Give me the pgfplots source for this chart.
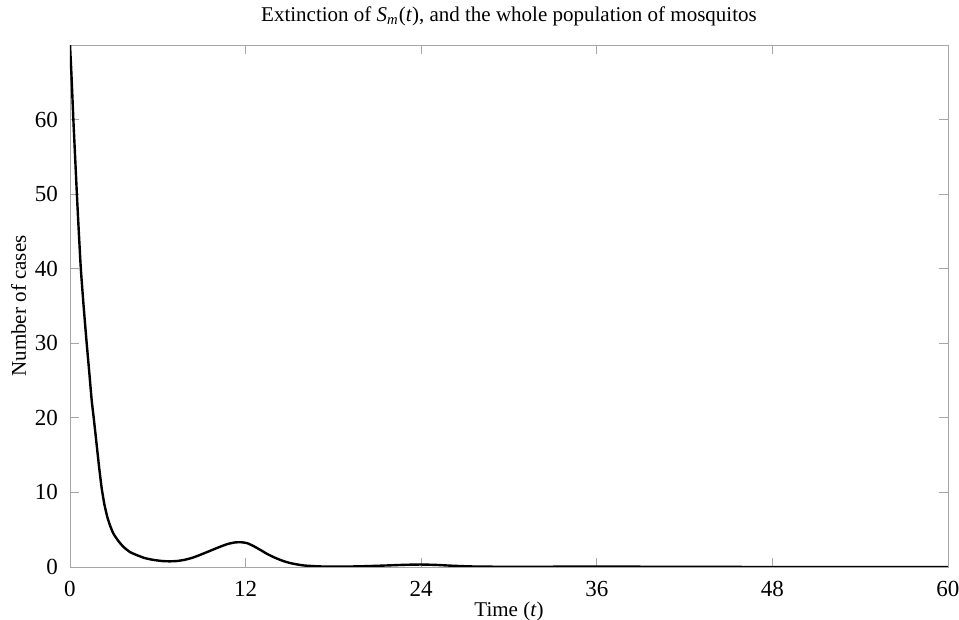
\documentclass[border=0pt]{standalone}
\usepackage{fontspec}
\setmainfont{Liberation Serif}
\usepackage{pgfplots}
\pgfplotsset{compat=1.18}
\begin{document}
\begin{tikzpicture}
\useasboundingbox (0,0) rectangle (479.5pt,310pt);
\begin{axis}[
  at={(35pt,26.5pt)}, anchor=south west,
  scale only axis, width=439pt, height=261pt,
  xmin=0, xmax=60, ymin=0, ymax=70,
  xtick={0,12,24,36,48,60},
  ytick={0,10,20,30,40,50,60},
  tick align=inside,
  axis line style={gray!70},
  major tick style={gray!70, line width=0.4pt},
  minor tick num=0,
  /pgf/number format/assume math mode=true,
  tick label style={font=\fontsize{11.5}{13}\selectfont},
  xticklabel style={yshift=-3.5pt},
  yticklabel style={xshift=-2.5pt},
  label style={font=\fontsize{10.5}{12}\selectfont},
  title style={font=\fontsize{10.5}{12}\selectfont},
  title={Extinction of \textit{S}\textsubscript{\textit{m}}(\textit{t}), and the whole population of mosquitos},
  xlabel={Time (\textit{t})},
  ylabel={Number of cases},
  xlabel style={yshift=4pt},
  ylabel style={yshift=-2.5pt},
]
\addplot[black, line width=1.2pt, smooth, tension=0.3] coordinates {
(0,70) (0.1,66) (0.23,60) (0.35,55) (0.47,50) (0.6,45) (0.74,40) (0.93,35)
(1.14,30) (1.3,26.5) (1.48,22.4) (1.62,20) (1.8,16.8) (2.0,13.2) (2.17,10.5)
(2.35,8.4) (2.55,6.7) (2.75,5.5) (2.96,4.5) (3.3,3.5) (3.65,2.7) (4.1,2.0)
(4.56,1.6) (5.1,1.2) (5.7,0.95) (6.3,0.8) (6.8,0.76) (7.3,0.8) (7.8,0.95)
(8.3,1.2) (8.8,1.55) (9.3,1.95) (9.8,2.35) (10.3,2.75) (10.8,3.1) (11.3,3.3)
(11.7,3.32) (12.1,3.2) (12.5,2.85) (13.0,2.3) (13.5,1.72) (14.0,1.25)
(14.5,0.85) (15.0,0.55) (15.5,0.35) (16.0,0.2) (17.0,0.08) (18.0,0.05)
(19.0,0.06) (20.0,0.1) (21.0,0.16) (22.0,0.23) (23.0,0.3) (24.0,0.33)
(25.0,0.28) (26.0,0.18) (27.0,0.1) (28.0,0.05) (30.0,0.03) (32,0.03)
(34,0.05) (36,0.07) (38,0.05) (40,0.03) (44,0.01) (50,0) (60,0)
};
\end{axis}
\end{tikzpicture}
\end{document}
